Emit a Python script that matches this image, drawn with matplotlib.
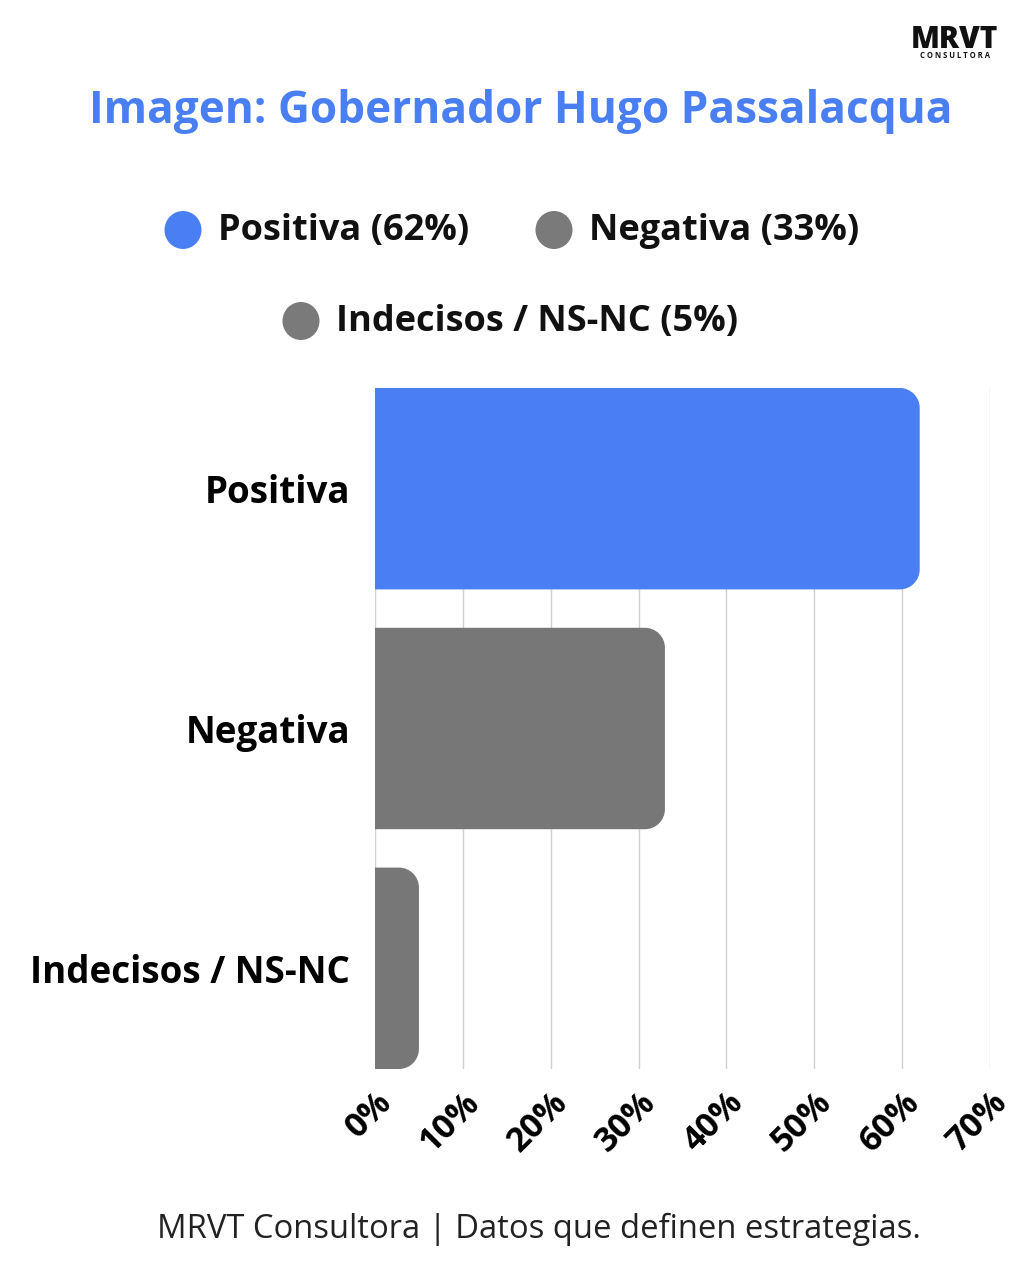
import matplotlib.pyplot as plt
from matplotlib.patches import PathPatch, Ellipse
from matplotlib.path import Path

plt.rcParams['font.family'] = ['Open Sans', 'DejaVu Sans']

# data
categorias = ["Positiva", "Negativa", "Indecisos / NS-NC"]
valores = [62, 33, 5]
colores = ["#4a7ff3", "#777777", "#777777"]
ticks = [0, 10, 20, 30, 40, 50, 60, 70]
tick_labels = ["0%", "10%", "20%", "30%", "40%", "50%", "60%", "70%"]
leyenda = ["Positiva (62%)", "Negativa (33%)", "Indecisos / NS-NC (5%)"]
color_leyenda = ["#4a7ff3", "#7a7a7a", "#7a7a7a"]

W, H = 1024, 1280
fig = plt.figure(figsize=(W / 100, H / 100), dpi=100)
ax = fig.add_axes([375 / W, 1 - 1069 / H, 615 / W, 681 / H])

alto = 0.84
ax.set_xlim(0, 70)
ax.set_ylim(len(categorias) - 1 + 0.42, -0.42)


def barra_redondeada(ax, y, largo, alto, color, r_px=20):
    # rounded corners only at the right end, radius given in pixels
    bb = ax.get_window_extent()
    x0, x1 = ax.get_xlim()
    y0, y1 = ax.get_ylim()
    rx = r_px / (bb.width / abs(x1 - x0))
    ry = r_px / (bb.height / abs(y1 - y0))
    rx = min(rx, largo)
    top, bot = y - alto / 2, y + alto / 2
    k = 0.5523
    verts = [
        (0, top),
        (largo - rx, top),
        (largo - rx + k * rx, top), (largo, top + ry - k * ry), (largo, top + ry),
        (largo, bot - ry),
        (largo, bot - ry + k * ry), (largo - rx + k * rx, bot), (largo - rx, bot),
        (0, bot),
        (0, top),
    ]
    codes = [Path.MOVETO, Path.LINETO,
             Path.CURVE4, Path.CURVE4, Path.CURVE4,
             Path.LINETO,
             Path.CURVE4, Path.CURVE4, Path.CURVE4,
             Path.LINETO, Path.CLOSEPOLY]
    ax.add_patch(PathPatch(Path(verts, codes), facecolor=color,
                           edgecolor="none", zorder=3))


for i, (v, c) in enumerate(zip(valores, colores)):
    barra_redondeada(ax, i, v, alto, c)

ax.set_xticks(ticks)
ax.set_xticklabels(tick_labels, fontsize=24.5, fontweight="bold", rotation=45,
                   ha="right", va="top", rotation_mode="anchor")
ax.tick_params(axis="x", length=0, pad=12)

ax.set_yticks(range(len(categorias)))
ax.set_yticklabels(categorias, fontsize=26.5, fontweight="bold")
ax.tick_params(axis="y", length=0, pad=18)

ax.grid(axis="x", color="#d0d0d0", linewidth=1, zorder=0)
ax.set_axisbelow(True)
for s in ax.spines.values():
    s.set_visible(False)

# title
fig.text(521 / W, 1 - 111 / H, "Imagen: Gobernador Hugo Passalacqua",
         fontsize=31.8, fontweight="bold", color="#4a7ff3", ha="center", va="center")

# legend
pos_leyenda = [(183, 230), (554, 230), (301, 321)]
for (cx, cy), txt, col in zip(pos_leyenda, leyenda, color_leyenda):
    fig.add_artist(Ellipse((cx / W, 1 - cy / H), 37 / W, 38 / H,
                           transform=fig.transFigure, facecolor=col, edgecolor="none"))
    fig.text((cx + 35) / W, 1 - (cy + 1) / H, txt, fontsize=26, fontweight="bold",
             color="#111111", ha="left", va="center")

# logo
fig.text(954 / W, 1 - 48 / H, "MRVT", fontsize=21.5, fontweight="heavy",
         color="#111111", ha="center", va="baseline")
fig.text(955 / W, 1 - 51 / H, "C O N S U L T O R A", fontsize=5.5, fontweight="bold",
         color="#111111", ha="center", va="top")

# footer
fig.text(539 / W, 1 - 1229 / H, "MRVT Consultora | Datos que definen estrategias.",
         fontsize=23.6, color="#222222", ha="center", va="center")

fig.savefig("out.png", dpi=100, facecolor="white")
